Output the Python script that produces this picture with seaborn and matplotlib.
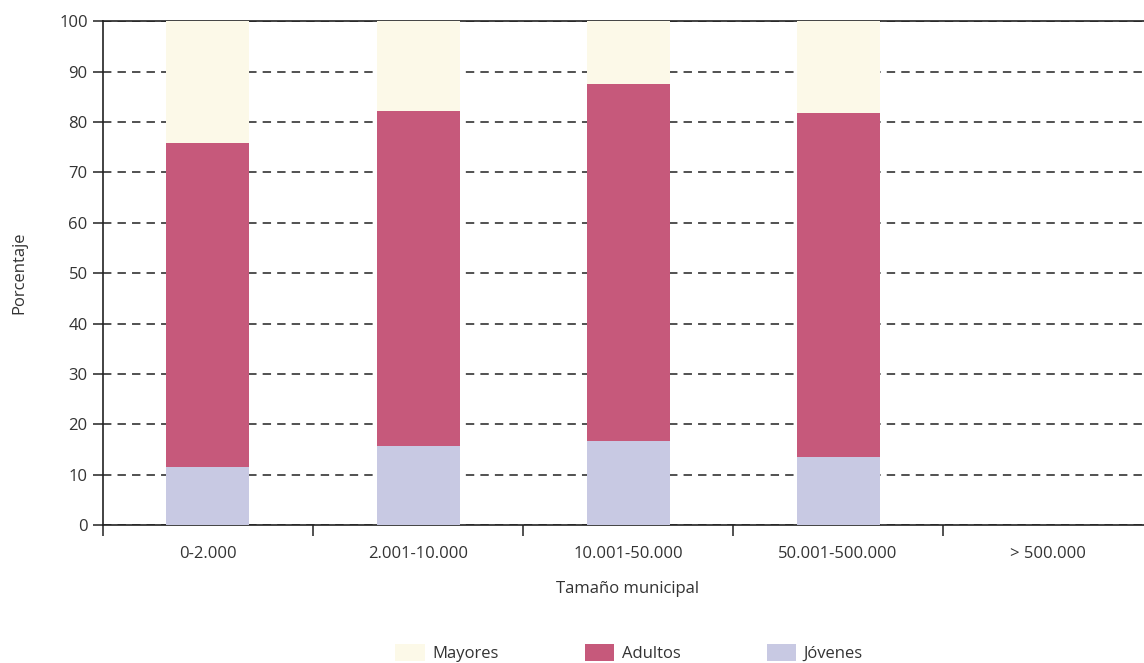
import numpy as np
import pandas as pd
import matplotlib
matplotlib.use("Agg")
import matplotlib.pyplot as plt
from matplotlib.patches import Patch
import seaborn as sns

# --- data ---
categorias = ["0-2.000", "2.001-10.000", "10.001-50.000", "50.001-500.000", "> 500.000"]
jovenes = [11.5, 15.7, 16.7, 13.5, np.nan]
adultos = [64.3, 66.4, 70.8, 68.2, np.nan]
mayores = [24.2, 17.9, 12.5, 18.3, np.nan]

colores = {"Mayores": "#FCF9E8", "Adultos": "#C6597B", "Jóvenes": "#C8C9E3"}

df = pd.DataFrame({"Tamaño": categorias, "Jóvenes": jovenes,
                   "Adultos": adultos, "Mayores": mayores})
df["c_jov"] = df["Jóvenes"]
df["c_adu"] = df["Jóvenes"] + df["Adultos"]
df["c_may"] = df["c_adu"] + df["Mayores"]

sns.set_style("white")
plt.rcParams["font.family"] = ["Open Sans", "DejaVu Sans"]
txt = "#333333"
fs = 12

fig = plt.figure(figsize=(11.44, 6.63), dpi=100)
ax = fig.add_axes([0.090, 0.208, 0.918, 0.760])

# stacked bars: draw cumulative totals from top layer down
for col, name in [("c_may", "Mayores"), ("c_adu", "Adultos"), ("c_jov", "Jóvenes")]:
    sns.barplot(data=df, x="Tamaño", y=col, order=categorias, color=colores[name],
                width=0.395, saturation=1, ax=ax, zorder=3, linewidth=0)

ax.set_ylim(0, 100)
ax.set_xlim(-0.5, 4.5)
ax.set_yticks(range(0, 101, 10))
ax.yaxis.grid(True, linestyle=(0, (5.5, 4)), color="#222222", linewidth=1.1, zorder=0)
ax.set_axisbelow(True)

for s in ["left", "bottom", "top"]:
    ax.spines[s].set_visible(True)
    ax.spines[s].set_color("#222222")
    ax.spines[s].set_linewidth(1.2)
ax.spines["right"].set_visible(False)

ax.tick_params(axis="y", length=7, width=1.1, color="#222222", labelsize=fs,
               labelcolor=txt, left=True, pad=4)
ax.set_xticks(np.arange(-0.5, 4.6, 1.0), minor=True)
ax.tick_params(axis="x", which="minor", length=8, width=1.1, color="#222222",
               bottom=True, direction="out")
ax.tick_params(axis="x", which="major", length=0, labelsize=fs, labelcolor=txt, pad=15)

ax.set_xlabel("Tamaño municipal", fontsize=fs, color=txt, labelpad=14)
ax.set_ylabel("Porcentaje", fontsize=fs, color=txt, labelpad=23)

handles = [Patch(facecolor=colores[n], edgecolor="none", label=n)
           for n in ["Mayores", "Adultos", "Jóvenes"]]
fig.legend(handles=handles, loc="center", bbox_to_anchor=(0.55, 0.015), ncol=3,
           frameon=False, fontsize=fs, handlelength=1.75, handleheight=1.2,
           handletextpad=0.45, columnspacing=5.2, labelcolor=txt)

fig.savefig("out.png", dpi=100)
